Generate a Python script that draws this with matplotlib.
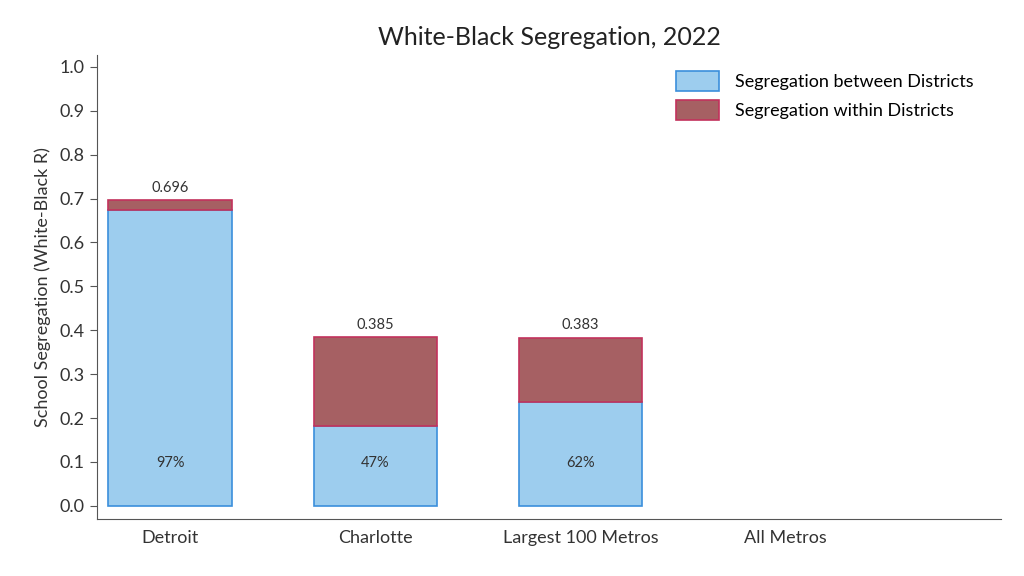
import matplotlib
matplotlib.use("Agg")
import matplotlib.pyplot as plt
import numpy as np

categories = ["Detroit", "Charlotte", "Largest 100 Metros", "All Metros"]
between = [0.675, 0.181, 0.237, np.nan]
totals = [0.696, 0.385, 0.383, np.nan]
share_labels = ["97%", "47%", "62%", ""]
total_labels = ["0.696", "0.385", "0.383", ""]
yticks = [0.0, 0.1, 0.2, 0.3, 0.4, 0.5, 0.6, 0.7, 0.8, 0.9, 1.0]

within = [t - b for t, b in zip(totals, between)]

plt.rcParams['font.family'] = ['Lato', 'DejaVu Sans']
fig = plt.figure(figsize=(10.24, 5.76), dpi=100)
ax = fig.add_axes([0.0947, 0.099, 0.883, 0.8055])

x = np.arange(len(categories))
blue_fc, blue_ec = "#9dcdee", "#3b8fdb"
red_fc, red_ec = "#a66063", "#c2325c"
ax.bar(x, between, width=0.6, color=blue_fc, edgecolor=blue_ec, linewidth=1.2,
       label="Segregation between Districts")
ax.bar(x, within, width=0.6, bottom=between, color=red_fc, edgecolor=red_ec, linewidth=1.2,
       label="Segregation within Districts")

for xi, t, tl, sl in zip(x, totals, total_labels, share_labels):
    if tl:
        ax.text(xi, t + 0.012, tl, ha="center", va="bottom", fontsize=10.5, color="#333333")
        ax.text(xi, 0.098, sl, ha="center", va="center", fontsize=10.5, color="#333333")

ax.set_xlim(-0.356, 4.05)
ax.set_ylim(-0.03, 1.027)
ax.set_yticks(yticks)
ax.set_yticklabels([f"{v:.1f}" for v in yticks], fontsize=13, color="#333333")
ax.set_xticks(x)
ax.set_xticklabels(categories, fontsize=13, color="#333333")
ax.tick_params(axis="x", length=0, pad=8)
ax.tick_params(axis="y", length=5, color="#555555", pad=4)
for s in ["top", "right"]:
    ax.spines[s].set_visible(False)
for s in ["left", "bottom"]:
    ax.spines[s].set_color("#555555")
ax.set_ylabel("School Segregation (White-Black R)", fontsize=13, color="#333333", labelpad=6)
ax.set_title("White-Black Segregation, 2022", fontsize=18, color="#222222", pad=7)
leg = ax.legend(loc="upper right", frameon=False, fontsize=13, handlelength=2.4,
                handleheight=1.3, bbox_to_anchor=(0.988, 1.0), labelspacing=0.5,
                handletextpad=0.9)
fig.savefig("out.png", dpi=100)
